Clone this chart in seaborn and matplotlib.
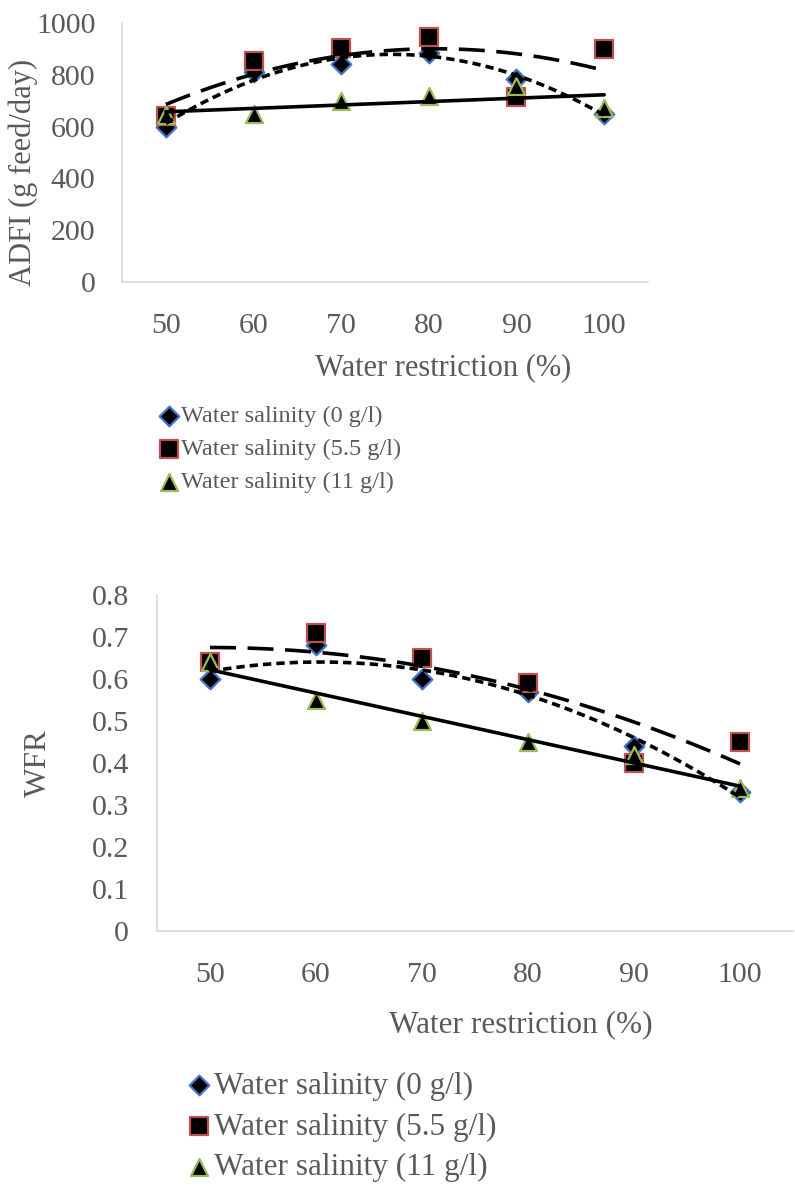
import numpy as np
import pandas as pd
import matplotlib
matplotlib.use("Agg")
import matplotlib.pyplot as plt
import seaborn as sns

# ---------------- data ----------------
restriction = [50, 60, 70, 80, 90, 100]
series_labels = ["Water salinity (0 g/l)", "Water salinity (5.5 g/l)", "Water salinity (11 g/l)"]

adfi_0 = [600, 810, 840, 885, 785, 650]
adfi_55 = [640, 855, 905, 945, 715, 900]
adfi_11 = [645, 650, 700, 720, 755, 670]

wfr_0 = [0.60, 0.68, 0.60, 0.57, 0.44, 0.33]
wfr_55 = [0.64, 0.71, 0.65, 0.59, 0.40, 0.45]
wfr_11 = [0.64, 0.55, 0.50, 0.45, 0.42, 0.34]

adfi_ticks = [0, 200, 400, 600, 800, 1000]
wfr_ticks = [0, 0.1, 0.2, 0.3, 0.4, 0.5, 0.6, 0.7, 0.8]

# ---------------- style ----------------
sns.set_style("white")
plt.rcParams["font.family"] = ["Liberation Serif", "DejaVu Serif"]
GRAY = "#595959"
AXIS = "#D9D9D9"
markers = ["D", "s", "^"]
msizes = [100, 150, 150]
edge_cols = ["#4472C4", "#C0504D", "#9BBB59"]
orders = [2, 2, 1]
LW = 2.6
line_styles = [(0, (2.3, 1.4)), (0, (7.2, 3.2)), "-"]

W, H = 795, 1188
fig = plt.figure(figsize=(W / 100, H / 100), dpi=100)


def px_axes(left, top, right, bottom):
    return fig.add_axes([left / W, 1 - bottom / H, (right - left) / W, (bottom - top) / H])


def draw(ax, ys, yticks, ylim, yfmt, fs, xpad, ypad):
    for i, y in enumerate(ys):
        df = pd.DataFrame({"x": restriction, "y": y})
        sns.scatterplot(data=df, x="x", y="y", ax=ax, marker=markers[i], s=msizes[i],
                        color="black", edgecolor=edge_cols[i], linewidth=1.6,
                        label=series_labels[i], zorder=3)
    for i, y in enumerate(ys):
        df = pd.DataFrame({"x": restriction, "y": y})
        sns.regplot(data=df, x="x", y="y", ax=ax, order=orders[i], ci=None, scatter=False,
                    truncate=True,
                    line_kws=dict(color="black", lw=LW, ls=line_styles[i], zorder=4))
    ax.set_xlim(45, 105)
    ax.set_ylim(*ylim)
    ax.set_xticks(restriction)
    ax.set_xticklabels([str(v) for v in restriction])
    ax.set_yticks(yticks)
    ax.set_yticklabels([yfmt(v) for v in yticks])
    ax.tick_params(axis="both", length=0, labelsize=fs, colors=GRAY)
    ax.tick_params(axis="x", pad=xpad)
    ax.tick_params(axis="y", pad=ypad)
    for s in ["top", "right"]:
        ax.spines[s].set_visible(False)
    for s in ["left", "bottom"]:
        ax.spines[s].set_color(AXIS)
        ax.spines[s].set_linewidth(1.2)
    ax.grid(False)


# ---------------- top chart ----------------
ax1 = px_axes(122, 23, 648, 282)
draw(ax1, [adfi_0, adfi_55, adfi_11], adfi_ticks, (0, 1000), lambda v: f"{v:g}", 21.5, 22, 19)
ax1.set_xlabel("Water restriction (%)", fontsize=22, color=GRAY)
ax1.set_ylabel("ADFI (g feed/day)", fontsize=22, color=GRAY)
ax1.xaxis.label.set_va("center")
ax1.yaxis.label.set_va("center")
ax1.xaxis.set_label_coords((443 - 122) / 526, (282 - 368) / 259)
ax1.yaxis.set_label_coords((23 - 122) / 526, (282 - 172) / 259)
h, l = ax1.get_legend_handles_labels()
ax1.legend(h, l, loc="center left", bbox_to_anchor=(157 / W, 1 - 449 / H),
           bbox_transform=fig.transFigure, frameon=False, fontsize=17.5,
           labelcolor=GRAY, handletextpad=0.0, labelspacing=0.45, handlelength=1.0,
           borderpad=0, borderaxespad=0)

# ---------------- bottom chart ----------------
ax2 = px_axes(157, 595, 793, 931)
draw(ax2, [wfr_0, wfr_55, wfr_11], wfr_ticks, (0, 0.8), lambda v: f"{v:g}", 21.5, 22, 20)
ax2.set_xlabel("Water restriction (%)", fontsize=22.5, color=GRAY)
ax2.set_ylabel("WFR", fontsize=22.5, color=GRAY)
ax2.xaxis.label.set_va("center")
ax2.yaxis.label.set_va("center")
ax2.xaxis.set_label_coords((521 - 157) / 636, (931 - 1025) / 336)
ax2.yaxis.set_label_coords((38 - 157) / 636, 0.5)
h, l = ax2.get_legend_handles_labels()
ax2.legend(h, l, loc="center left", bbox_to_anchor=(183 / W, 1 - 1127 / H),
           bbox_transform=fig.transFigure, frameon=False, fontsize=22.5,
           labelcolor=GRAY, handletextpad=0.0, labelspacing=0.38, handlelength=1.0,
           borderpad=0, borderaxespad=0)

fig.savefig("out.png", dpi=100)
